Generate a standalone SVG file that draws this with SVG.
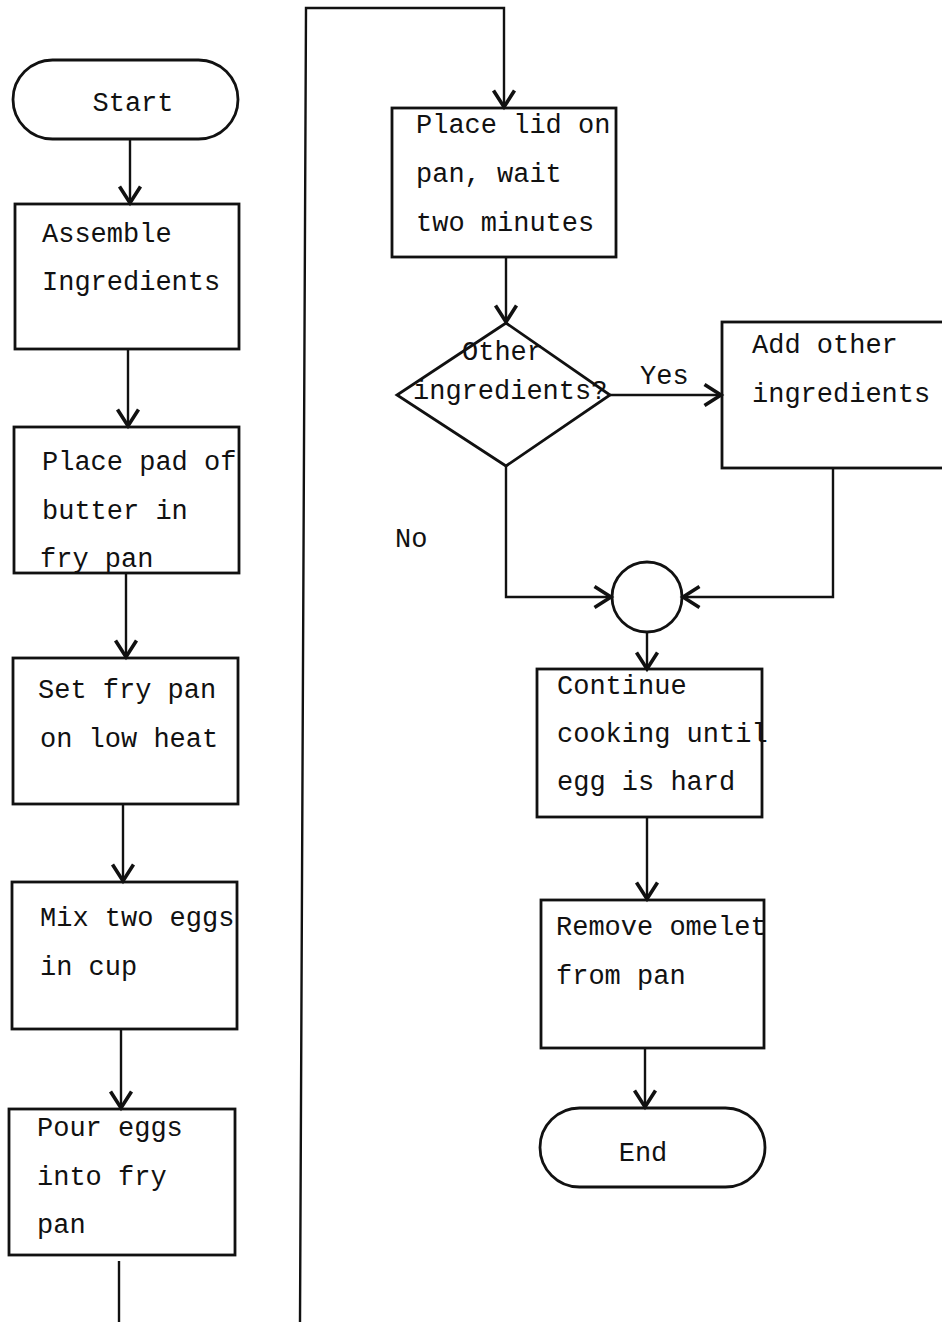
<svg xmlns="http://www.w3.org/2000/svg" width="942" height="1322" viewBox="0 0 942 1322">
<style>
.box{fill:none;stroke:#111;stroke-width:2.8}
.t{font-family:"Liberation Mono","DejaVu Sans Mono",monospace;font-size:27px;fill:#111}
.c{fill:none;stroke:#111;stroke-width:2.4}
</style>
<defs>
<marker id="arr" markerUnits="userSpaceOnUse" markerWidth="30" markerHeight="30" viewBox="-16 -10 20 20" refX="0" refY="0" orient="auto">
<path d="M-11,-7 L0,0 L-11,7" fill="none" stroke="#111" stroke-width="2.4"/>
</marker>
</defs>
<rect width="942" height="1322" fill="#fff"/>
<g id="connectors">
<path class="c" d="M130,139 V203" marker-end="url(#arr)"/>
<path class="c" d="M128,349 V426" marker-end="url(#arr)"/>
<path class="c" d="M126,573 V657" marker-end="url(#arr)"/>
<path class="c" d="M123,804 V881" marker-end="url(#arr)"/>
<path class="c" d="M121,1029 V1108" marker-end="url(#arr)"/>
<path class="c" d="M119,1261 V1322"/>
<path class="c" d="M300,1322 L306,8 H504 V107" stroke-width="2.8" marker-end="url(#arr)"/>
<path class="c" d="M506,257 V322" marker-end="url(#arr)"/>
<path class="c" d="M610,395 H721" marker-end="url(#arr)"/>
<path class="c" d="M506,466 V597 H611" marker-end="url(#arr)"/>
<path class="c" d="M833,468 V597 H683" marker-end="url(#arr)"/>
<path class="c" d="M647,632 V669" marker-end="url(#arr)"/>
<path class="c" d="M647,817 V899" marker-end="url(#arr)"/>
<path class="c" d="M645,1048 V1107" stroke-width="3.4" marker-end="url(#arr)"/>
</g>
<g id="start">
<rect class="box" x="13" y="60" width="225" height="79" rx="39.5"/>
<text class="t" x="133" y="111" text-anchor="middle">Start</text>
</g>
<g id="assemble">
<rect class="box" x="15" y="204" width="224" height="145"/>
<text class="t" x="42" y="242">Assemble</text>
<text class="t" x="42" y="290">Ingredients</text>
</g>
<g id="butter">
<rect class="box" x="14" y="427" width="225" height="146"/>
<text class="t" x="42" y="470">Place pad of</text>
<text class="t" x="42" y="519">butter in</text>
<text class="t" x="40" y="567">fry pan</text>
</g>
<g id="heat">
<rect class="box" x="13" y="658" width="225" height="146"/>
<text class="t" x="38" y="698">Set fry pan</text>
<text class="t" x="40" y="747">on low heat</text>
</g>
<g id="mix">
<rect class="box" x="12" y="882" width="225" height="147"/>
<text class="t" x="40" y="926">Mix two eggs</text>
<text class="t" x="40" y="975">in cup</text>
</g>
<g id="pour">
<rect class="box" x="9" y="1109" width="226" height="146"/>
<text class="t" x="37" y="1136">Pour eggs</text>
<text class="t" x="37" y="1185">into fry</text>
<text class="t" x="37" y="1233">pan</text>
</g>
<g id="lid">
<rect class="box" x="392" y="108" width="224" height="149"/>
<text class="t" x="416" y="133">Place lid on</text>
<text class="t" x="416" y="182">pan, wait</text>
<text class="t" x="416" y="231">two minutes</text>
</g>
<g id="decision">
<polygon class="box" points="506,323 610,395 506,466 397,395"/>
<text class="t" x="462" y="360">Other</text>
<text class="t" x="413" y="399">ingredients?</text>
</g>
<g id="labels">
<text class="t" x="640" y="384">Yes</text>
<text class="t" x="395" y="547">No</text>
</g>
<g id="add">
<rect class="box" x="722" y="322" width="222" height="146"/>
<text class="t" x="752" y="353">Add other</text>
<text class="t" x="752" y="402">ingredients</text>
</g>
<g id="junction">
<circle class="box" cx="647" cy="597" r="35"/>
</g>
<g id="continue">
<rect class="box" x="537" y="669" width="225" height="148"/>
<text class="t" x="557" y="694">Continue</text>
<text class="t" x="557" y="742">cooking until</text>
<text class="t" x="557" y="790">egg is hard</text>
</g>
<g id="remove">
<rect class="box" x="541" y="900" width="223" height="148"/>
<text class="t" x="556" y="935">Remove omelet</text>
<text class="t" x="556" y="984">from pan</text>
</g>
<g id="end">
<rect class="box" x="540" y="1108" width="225" height="79" rx="39.5"/>
<text class="t" x="643" y="1161" text-anchor="middle">End</text>
</g>
</svg>
